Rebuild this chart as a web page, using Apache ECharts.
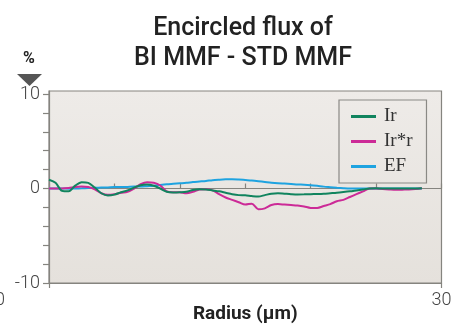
<!DOCTYPE html>
<html>
<head>
<meta charset="utf-8">
<script src="https://cdn.jsdelivr.net/npm/echarts@6/dist/echarts.min.js"></script>
<style>
  html, body { margin: 0; padding: 0; background: #fff; }
  #chart { width: 459px; height: 327px; }
</style>
</head>
<body>
<div id="chart"></div>
<script>
// radius in µm
const radius = [0, 0.5, 1, 1.5, 2, 2.5, 3, 3.5, 4, 4.5, 5, 5.5, 6, 6.5, 7, 7.5, 8, 8.5, 9, 9.5,
  10, 10.5, 11, 11.5, 12, 12.5, 13, 13.5, 14, 14.5, 15, 15.5, 16, 16.5, 17, 17.5, 18, 18.5, 19, 19.5,
  20, 20.5, 21, 21.5, 22, 22.5, 23, 23.5, 24, 24.5, 25, 25.5, 26, 26.5, 27, 27.5, 28, 28.5];

const ir = [0.92, 0.6, -0.25, -0.3, 0.3, 0.67, 0.6, 0.1, -0.5, -0.74, -0.65, -0.4, -0.2, 0.1, 0.35, 0.42, 0.3, 0.0, -0.35, -0.42,
  -0.4, -0.35, -0.15, -0.07, -0.1, -0.2, -0.3, -0.45, -0.6, -0.7, -0.72, -0.8, -0.85, -0.7, -0.55, -0.5, -0.55, -0.6, -0.63, -0.62,
  -0.6, -0.58, -0.55, -0.5, -0.45, -0.38, -0.3, -0.2, -0.1, 0, 0.02, 0, 0, 0, 0, 0, 0, 0.02];

const irr = [0, 0, 0, 0.05, 0.15, 0.2, 0.15, -0.1, -0.5, -0.67, -0.6, -0.45, -0.35, 0.0, 0.45, 0.67, 0.6, 0.32, -0.3, -0.39,
  -0.4, -0.5, -0.35, -0.1, -0.07, -0.2, -0.6, -0.95, -1.2, -1.45, -1.7, -1.6, -2.2, -2.1, -1.75, -1.65, -1.7, -1.75, -1.8, -1.9,
  -2.05, -2.05, -1.85, -1.65, -1.35, -1.2, -0.9, -0.6, -0.3, 0.0, 0.0, -0.05, -0.1, -0.14, -0.12, -0.1, -0.05, 0.03];

const ef = [0, 0, 0, -0.02, 0.0, 0.02, 0.05, 0.07, 0.1, 0.12, 0.15, 0.15, 0.17, 0.2, 0.2, 0.25, 0.3, 0.38, 0.45, 0.5,
  0.55, 0.6, 0.68, 0.74, 0.8, 0.88, 0.93, 0.97, 0.98, 0.95, 0.9, 0.85, 0.78, 0.7, 0.62, 0.56, 0.52, 0.48, 0.43, 0.4,
  0.35, 0.28, 0.2, 0.14, 0.08, 0.03, 0, 0, 0, 0, 0, 0, 0, 0, 0, 0, 0, 0];

const seriesNames = ['Ir', 'Ir*r', 'EF'];
const seriesColors = ['#11845e', '#cc2a97', '#1ea3e0'];
const yTicks = [-10, -8, -6, -4, -2, 0, 2, 4, 6, 8, 10];
const yLabels = [-10, 0, 10];

function pairs(vals) {
  let out = [];
  for (let i = 0; i < vals.length; i++) out.push([radius[i], vals[i]]);
  return out;
}

const myChart = echarts.init(document.getElementById('chart'));
const axisGray = '#85847f';
const labelFont = 'Roboto';

let series = [ir, irr, ef].map(function (vals, i) {
  return {
    name: seriesNames[i],
    type: 'line',
    data: pairs(vals),
    symbol: 'none',
    smooth: 0.3,
    xAxisIndex: 0,
    lineStyle: { width: 2, color: seriesColors[i] },
    itemStyle: { color: seriesColors[i] },
    z: 3 - i
  };
});

myChart.setOption({
  animation: false,
  title: {
    text: 'Encircled flux of\nBI MMF - STD MMF',
    left: 238,
    textAlign: 'center',
    top: 9,
    textStyle: { fontFamily: labelFont, fontWeight: 500, fontSize: 25, lineHeight: 30, color: '#222' }
  },
  legend: {
    orient: 'vertical',
    left: 339,
    top: 100,
    padding: [7, 14, 7, 12],
    borderColor: '#8a8985',
    borderWidth: 1.2,
    itemWidth: 25,
    itemHeight: 3,
    itemGap: 6,
    icon: 'rect',
    data: seriesNames,
    textStyle: { fontFamily: 'Liberation Serif', fontSize: 19, lineHeight: 17, color: '#333', padding: [0, 0, 0, 3] }
  },
  grid: {
    left: 49, right: 17.5, top: 91, bottom: 44,
    outerBoundsMode: 'none',
    containLabel: false,
    show: true,
    borderColor: axisGray,
    borderWidth: 1.2,
    backgroundColor: new echarts.graphic.LinearGradient(0, 0, 0, 1, [
      { offset: 0, color: '#eeebe8' },
      { offset: 1, color: '#e5e1dc' }
    ])
  },
  xAxis: [
    {
      type: 'value', min: 0, max: 30, interval: 30,
      position: 'bottom',
      name: 'Radius (\u03bcm)',
      nameLocation: 'middle',
      nameGap: 22,
      nameMoveOverlap: false,
      nameTextStyle: { fontFamily: labelFont, fontWeight: 'bold', fontSize: 19, color: '#222', verticalAlign: 'top' },
      axisLine: { onZero: false, lineStyle: { color: axisGray, width: 1.2 } },
      axisTick: { length: 5, lineStyle: { color: axisGray, width: 1.2 } },
      splitLine: { show: false },
      axisLabel: {
        margin: 8,
        fontFamily: labelFont, fontWeight: 300, fontSize: 18, color: '#444',
        formatter: function (v) { return v === 0 ? '{z|0}' : String(v); },
        rich: { z: { fontFamily: labelFont, fontWeight: 300, fontSize: 18, color: '#444', padding: [0, 98, 0, 0] } }
      }
    },
    {
      type: 'value', min: 0, max: 30, interval: 5,
      position: 'bottom',
      axisLine: { onZero: true, lineStyle: { color: axisGray, width: 1.2 } },
      axisTick: { inside: true, length: 5, lineStyle: { color: axisGray, width: 1.2 } },
      axisLabel: { show: false },
      splitLine: { show: false }
    }
  ],
  yAxis: {
    type: 'value', min: -10, max: 10.32,
    name: '%',
    nameLocation: 'end',
    nameGap: 24,
    nameTextStyle: { fontFamily: labelFont, fontWeight: 'bold', fontSize: 16, color: '#222', padding: [0, 40, 0, 0] },
    axisLine: { lineStyle: { color: axisGray, width: 1.2 } },
    axisTick: { show: true, length: 6, customValues: yTicks, lineStyle: { color: axisGray, width: 1.2 } },
    splitLine: { show: false },
    axisLabel: {
      customValues: yLabels,
      margin: 9,
      fontFamily: labelFont, fontWeight: 300, fontSize: 18, color: '#444'
    }
  },
  graphic: [
    {
      type: 'polygon',
      shape: { points: [[17, 74], [42, 74], [29.5, 86]] },
      style: { fill: '#555' }
    }
  ],
  series: series
});
</script>
</body>
</html>
